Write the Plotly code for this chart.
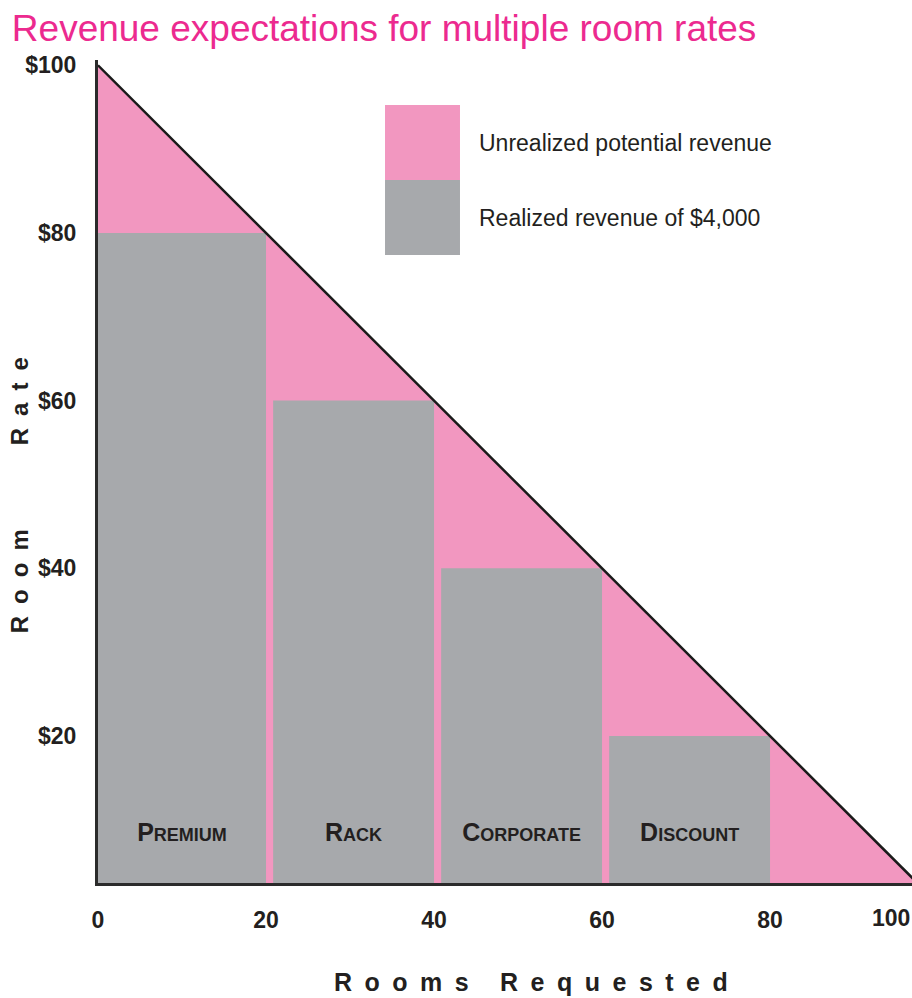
import plotly.graph_objects as go

# ---------------- data ----------------
categories = ["Premium", "Rack", "Corporate", "Discount"]
room_rates = [80, 60, 40, 20]
rooms_start = [0, 20, 40, 60]
rooms_end = [20, 40, 60, 80]
max_rate = 100
max_rooms = 100
y_ticks = [20, 40, 60, 80, 100]
y_tick_labels = ["$20", "$40", "$60", "$80", "$100"]
x_ticks = [0, 20, 40, 60, 80, 100]
x_tick_labels = ["0", "20", "40", "60", "80", "100"]
legend_labels = ["Unrealized potential revenue", "Realized revenue of $4,000"]
title_text = "Revenue expectations for multiple room rates"
x_title = "Rooms Requested"
y_title = "Room Rate"

# ---------------- style ----------------
PINK = "#F297C0"
GRAY = "#A7A9AC"
TITLE_PINK = "#EC2A8F"
DARK = "#231F20"
FONT = "Liberation Sans, Arial, sans-serif"
GAP = 0.85          # gap between bars (in rooms)
LABEL_Y = 8.2       # vertical placement of the bar names
EN = "\u2002"


def spaced(text, word_gap):
    words = text.split(" ")
    return word_gap.join(EN.join(w) for w in words)


def small_caps(word, small=18):
    return f"<b>{word[0].upper()}<span style='font-size:{small}px'>{word[1:].upper()}</span></b>"


fig = go.Figure()

# realized revenue bars
offsets = [GAP if s > 0 else 0 for s in rooms_start]
widths = [e - s - o for s, e, o in zip(rooms_start, rooms_end, offsets)]
fig.add_trace(go.Bar(
    x=rooms_start, y=room_rates, base=0, offset=offsets, width=widths,
    marker=dict(color=GRAY, line=dict(width=0)), showlegend=False))

# demand line
fig.add_trace(go.Scatter(
    x=[0, max_rooms], y=[max_rate, 0], mode="lines",
    line=dict(color="#1A1A1A", width=2.5), hoverinfo="skip", showlegend=False))

# bar names
centers = [(s + o + e) / 2 for s, o, e in zip(rooms_start, offsets, rooms_end)]
fig.add_trace(go.Scatter(
    x=centers, y=[LABEL_Y] * len(categories), mode="text",
    text=[small_caps(c) for c in categories],
    textfont=dict(family=FONT, size=25, color=DARK),
    textposition="middle center", hoverinfo="skip", showlegend=False))

annotations = []
# unrealized potential revenue: demand triangle, drawn beneath the bars
shapes = [dict(type="path", xref="x", yref="y", layer="below",
               path=f"M 0,{max_rate} L {max_rooms},0 L 0,0 Z",
               fillcolor=PINK, line=dict(width=0))]
# legend swatches and labels
sw_x0, sw_x1 = 0.3526, 0.4447
sw_y = [(0.9453, 0.8542), (0.8542, 0.763)]
for lab, col, (ya, yb) in zip(legend_labels, [PINK, GRAY], sw_y):
    shapes.append(dict(type="rect", xref="paper", yref="paper",
                       x0=sw_x0, x1=sw_x1, y0=yb, y1=ya,
                       fillcolor=col, line=dict(width=0)))
    annotations.append(dict(xref="paper", yref="paper", x=0.4655, y=(ya + yb) / 2,
                            text=lab, showarrow=False, xanchor="left", yanchor="middle",
                            font=dict(family=FONT, size=23, color=DARK)))

# axis titles
annotations.append(dict(xref="paper", yref="paper", x=0.532, y=-0.12,
                        text=f"<b>{spaced(x_title, EN + EN + chr(0x2005))}</b>",
                        showarrow=False, xanchor="center", yanchor="middle",
                        font=dict(family=FONT, size=25, color=DARK)))
annotations.append(dict(xref="paper", yref="paper", x=-0.096, y=0.471,
                        text=f"<b>{spaced(y_title, chr(0x2003) * 3 + EN)}</b>",
                        textangle=-90, showarrow=False, xanchor="center", yanchor="middle",
                        font=dict(family=FONT, size=24, color=DARK)))
# last x tick label sits at the cropped right edge
annotations.append(dict(xref="paper", yref="paper", x=1, y=0, yanchor="top",
                        xanchor="right", yshift=-20, text=f"<b>{x_tick_labels[-1]}</b>",
                        showarrow=False, font=dict(family=FONT, size=23, color=DARK)))

fig.update_layout(
    width=912, height=998,
    margin=dict(l=98, r=0, t=60, b=115),
    paper_bgcolor="white", plot_bgcolor="white",
    barmode="overlay",
    title=dict(text=title_text, x=0.013, xanchor="left", y=0.972, yanchor="middle",
               font=dict(family=FONT, size=37, color=TITLE_PINK)),
    xaxis=dict(range=[0, 96.9], tickvals=x_ticks[:-1],
               ticktext=[f"<b>{t}</b>" for t in x_tick_labels[:-1]],
               showgrid=False, zeroline=False, showline=True, linecolor="#2B2B2B",
               linewidth=3, ticks="", ticklabelstandoff=14,
               tickfont=dict(family=FONT, size=23, color=DARK)),
    yaxis=dict(range=[2.46, 100.63], tickvals=y_ticks,
               ticktext=[f"<b>{t}</b>" for t in y_tick_labels],
               showgrid=False, zeroline=False, showline=True, linecolor="#2B2B2B",
               linewidth=3, ticks="", ticklabelstandoff=14,
               tickfont=dict(family=FONT, size=23, color=DARK)),
    shapes=shapes, annotations=annotations,
)

fig.write_html("out.html")
